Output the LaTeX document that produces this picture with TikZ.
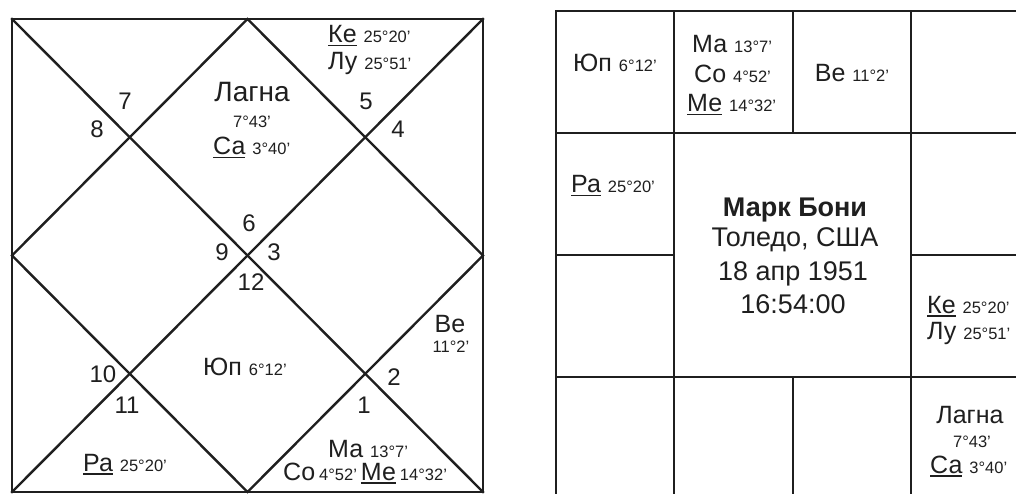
\documentclass[tikz,border=0pt]{standalone}
\usepackage{fontspec}
\setmainfont{Liberation Sans}
\newcommand\undl[1]{\setbox0\hbox{#1}\rlap{\rule[-3.5pt]{\wd0}{1.6pt}}\box0\relax}
\newcommand\dgr[1]{{\fontsize{16.5}{18}\selectfont #1}}
\begin{document}
\begin{tikzpicture}[x=1pt,y=-1pt,
  gridline/.style={line width=2.4pt, draw=black!88, line cap=rect},
  txt/.style={inner sep=0pt, text=black!88},
  pl/.style={txt, font=\fontsize{25}{27}\selectfont},
  hnum/.style={txt, font=\fontsize{24}{26}\selectfont, anchor=base},
  big/.style={txt, font=\fontsize{27}{30}\selectfont, anchor=base},
  lag/.style={txt, font=\fontsize{28}{30}\selectfont, anchor=base},
  degs/.style={txt, font=\fontsize{16.5}{18}\selectfont, anchor=base}]
\useasboundingbox (0,0) rectangle (1016,494);
\clip (0,0) rectangle (1016,494);
\fill[white] (0,0) rectangle (1016,494);
% ---------- left (North Indian) chart ----------
\coordinate (LTL) at (12,19);
\coordinate (LTR) at (483,19);
\coordinate (LBR) at (483,492);
\coordinate (LBL) at (12,492);
\coordinate (LT) at (247.5,19);
\coordinate (LR) at (483,255.5);
\coordinate (LB) at (247.5,492);
\coordinate (LL) at (12,255.5);
\draw[gridline] (LTL) rectangle (LBR);
\draw[gridline] (LTL) -- (LBR);
\draw[gridline] (LTR) -- (LBL);
\draw[gridline] (LT) -- (LR) -- (LB) -- (LL) -- cycle;
% house numbers
\node[hnum] (n7) at (125,110) {7};
\node[hnum] (n8) at (97,138) {8};
\node[hnum] (n5) at (366,110) {5};
\node[hnum] (n4) at (398,138) {4};
\node[hnum] (n6) at (249,232) {6};
\node[hnum] (n9) at (222,260) {9};
\node[hnum] (n3) at (274,260) {3};
\node[hnum] (n12) at (251,290) {12};
\node[hnum] (n10) at (103,382) {10};
\node[hnum] (n11) at (127,413) {11};
\node[hnum] (n2) at (394,385) {2};
\node[hnum] (n1) at (364,413) {1};
% planets
\node[lag] (lagL) at (252,102) {Лагна};
\node[degs] (lagLd) at (252,128) {7°43'};
\node[pl, anchor=base west] (saL) at (213,155) {\undl{Са} \dgr{3°40'}};
\node[pl, anchor=base west] (keL) at (328,43) {\undl{Ке} \dgr{25°20'}};
\node[pl, anchor=base west] (luL) at (328,70) {Лу \dgr{25°51'}};
\node[pl, anchor=base] (veL) at (450,332) {Ве};
\node[degs] (veLd) at (451,352) {11°2'};
\node[pl, anchor=base west] (yuL) at (203,375) {Юп \dgr{6°12'}};
\node[pl, anchor=base west] (raL) at (83,471) {\undl{Ра} \dgr{25°20'}};
\node[pl, anchor=base west] (maL) at (328,457) {Ма \dgr{13°7'}};
\node[pl, anchor=base west] (coL) at (283,480) {Со\hspace{4pt}\dgr{4°52'}\hspace{4pt}\undl{Ме}\hspace{4pt}\dgr{14°32'}};
% ---------- right (South Indian) chart ----------
\coordinate (A0) at (556,11);
\coordinate (A4) at (1030,499);
\coordinate (H1a) at (556,133);
\coordinate (H1b) at (1030,133);
\coordinate (H3a) at (556,377);
\coordinate (H3b) at (1030,377);
\coordinate (V1a) at (674,11);
\coordinate (V1b) at (674,499);
\coordinate (V3a) at (911,11);
\coordinate (V3b) at (911,499);
\coordinate (V2a) at (793,11);
\coordinate (V2b) at (793,133);
\coordinate (V2c) at (793,377);
\coordinate (V2d) at (793,499);
\coordinate (H2a) at (556,255);
\coordinate (H2b) at (674,255);
\coordinate (H2c) at (911,255);
\coordinate (H2d) at (1030,255);
\draw[gridline] (A0) rectangle (A4);
\draw[gridline] (H1a) -- (H1b);
\draw[gridline] (H3a) -- (H3b);
\draw[gridline] (V1a) -- (V1b);
\draw[gridline] (V3a) -- (V3b);
\draw[gridline] (V2a) -- (V2b);
\draw[gridline] (V2c) -- (V2d);
\draw[gridline] (H2a) -- (H2b);
\draw[gridline] (H2c) -- (H2d);
% cells
\node[pl, anchor=base] (yuR) at (615,72) {Юп \dgr{6°12'}};
\node[pl, anchor=base west] (maR) at (692,53) {Ма \dgr{13°7'}};
\node[pl, anchor=base west] (coR) at (694,83) {Со \dgr{4°52'}};
\node[pl, anchor=base west] (meR) at (687,112) {\undl{Ме} \dgr{14°32'}};
\node[pl, anchor=base] (veR) at (852,82) {Ве \dgr{11°2'}};
\node[pl, anchor=base west] (raR) at (571,193) {\undl{Ра} \dgr{25°20'}};
\node[pl, anchor=base west] (keR) at (927,313) {\undl{Ке} \dgr{25°20'}};
\node[pl, anchor=base west] (luR) at (927,339) {Лу \dgr{25°51'}};
\node[pl, anchor=base] (lagR) at (970,423) {Лагна};
\node[degs] (lagRd) at (972,447) {7°43'};
\node[pl, anchor=base west] (saR) at (930,473) {\undl{Са} \dgr{3°40'}};
% centre
\node[big, font=\fontsize{27}{30}\selectfont\bfseries] (name) at (795,217) {Марк Бони};
\node[big] (place) at (795,247) {Толедо, США};
\node[big] (date) at (793,280) {18 апр 1951};
\node[big] (time) at (793,313) {16:54:00};
\end{tikzpicture}
\end{document}
